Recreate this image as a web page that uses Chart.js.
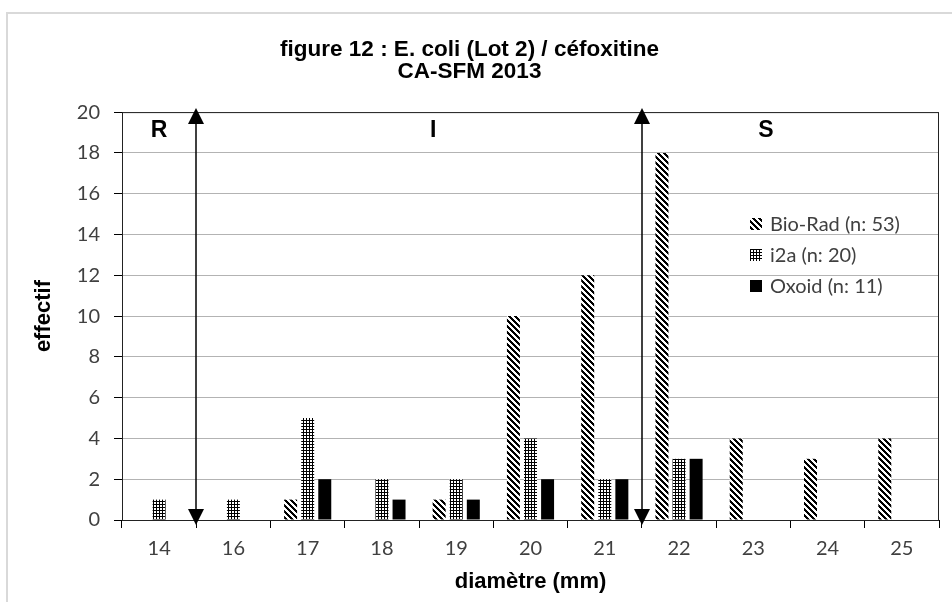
<!DOCTYPE html>
<html>
<head>
<meta charset="utf-8">
<title>figure 12</title>
<script src="https://cdn.jsdelivr.net/npm/chart.js@4.4.1/dist/chart.umd.min.js"></script>
<style>
  body { margin: 0; background: #fff; }
  canvas { display: block; }
</style>
</head>
<body>
<canvas id="myChart" width="952" height="602"></canvas>
<script>
// diamètres (mm) et effectifs par fournisseur
var diametres = ["14", "16", "17", "18", "19", "20", "21", "22", "23", "24", "25"];
var bioRad = [0, 0, 1, 0, 1, 10, 12, 18, 4, 3, 4];
var i2a = [1, 1, 5, 2, 2, 4, 2, 3, 0, 0, 0];
var oxoid = [0, 0, 2, 1, 1, 2, 2, 3, 0, 0, 0];
var serieLabels = ["Bio-Rad (n: 53)", "i2a (n: 20)", "Oxoid (n: 11)"];
var titre = ["figure 12 : E. coli (Lot 2) / céfoxitine", "CA-SFM 2013"];
var yTicks = [0, 2, 4, 6, 8, 10, 12, 14, 16, 18, 20];

// zones R / I / S : flèches entre deux catégories, lettres en position de catégorie
var limites = [0.5, 6.5];
var zones = [{ txt: "R", at: 0 }, { txt: "I", at: 3.69 }, { txt: "S", at: 8.17 }];

var tickFont = { family: "Lato", size: 20 };
var boldFont = "Liberation Sans";

function makePattern(size, isInk) {
    var c = document.createElement("canvas");
    c.width = size;
    c.height = size;
    var g = c.getContext("2d");
    var img = g.createImageData(size, size);
    for (var y = 0; y < size; y++) {
        for (var x = 0; x < size; x++) {
            var k = (y * size + x) * 4;
            var v = isInk(x, y) ? 0 : 255;
            img.data[k] = v;
            img.data[k + 1] = v;
            img.data[k + 2] = v;
            img.data[k + 3] = 255;
        }
    }
    g.putImageData(img, 0, 0);
    return g.createPattern(c, "repeat");
}

var hachures = makePattern(6, function (x, y) { return ((x - y + 6) % 6) < 3; });
var trame = makePattern(3, function (x, y) { return x === 0 || y === 0; });

var decor = {
    id: "decor",
    beforeDraw: function (chart) {
        var c = chart.ctx;
        c.save();
        c.strokeStyle = "#d9d9d9";
        c.lineWidth = 2;
        c.beginPath();
        c.moveTo(7, 602);
        c.lineTo(7, 13);
        c.lineTo(952, 13);
        c.stroke();
        c.restore();
    },
    afterDatasetsDraw: function (chart) {
        var c = chart.ctx;
        var a = chart.chartArea;
        var xs = chart.scales.x;
        var ys = chart.scales.y;
        c.save();

        // cadre de la zone de tracé
        c.strokeStyle = "#222";
        c.lineWidth = 1;
        c.strokeRect(a.left + 0.5, a.top + 0.5, a.right - a.left - 1, a.bottom - a.top);

        // flèches doubles
        c.fillStyle = "#000";
        c.strokeStyle = "#000";
        c.lineWidth = 1.5;
        limites.forEach(function (v) {
            var x = Math.round((xs.getPixelForValue(Math.floor(v)) + xs.getPixelForValue(Math.ceil(v))) / 2);
            var top = a.top - 4;
            var bot = a.bottom + 5;
            c.beginPath();
            c.moveTo(x, top + 10);
            c.lineTo(x, bot - 10);
            c.stroke();
            c.beginPath();
            c.moveTo(x, top);
            c.lineTo(x - 8, top + 16);
            c.lineTo(x + 8, top + 16);
            c.closePath();
            c.fill();
            c.beginPath();
            c.moveTo(x, bot);
            c.lineTo(x - 8, bot - 16);
            c.lineTo(x + 8, bot - 16);
            c.closePath();
            c.fill();
        });

        // lettres R, I, S
        c.font = "bold 23px '" + boldFont + "'";
        c.textAlign = "center";
        c.textBaseline = "middle";
        zones.forEach(function (z) {
            c.fillText(z.txt, xs.getPixelForValue(0) + z.at * (xs.getPixelForValue(1) - xs.getPixelForValue(0)), ys.getPixelForValue(19.1));
        });

        // légende
        c.font = tickFont.size + "px " + tickFont.family;
        c.textAlign = "left";
        chart.data.datasets.forEach(function (ds, i) {
            var y = 224 + i * 31;
            c.fillStyle = ds.backgroundColor;
            c.fillRect(750, y - 6, 12, 12);
            c.fillStyle = "#404040";
            c.fillText(ds.label, 770, y + 1);
        });
        c.restore();
    }
};

var ctx = document.getElementById("myChart");
var chart = new Chart(ctx, {
    type: "bar",
    data: {
        labels: diametres,
        datasets: [
            { label: serieLabels[0], data: bioRad, backgroundColor: hachures },
            { label: serieLabels[1], data: i2a, backgroundColor: trame },
            { label: serieLabels[2], data: oxoid, backgroundColor: "#000" }
        ]
    },
    options: {
        responsive: false,
        animation: false,
        devicePixelRatio: 1,
        categoryPercentage: 0.69,
        barPercentage: 0.76,
        layout: { padding: { left: 0, right: 13, top: 0, bottom: 0 } },
        plugins: {
            legend: { display: false },
            tooltip: { enabled: false },
            title: {
                display: true,
                text: titre,
                color: "#000",
                font: { family: boldFont, size: 22.5, weight: "bold", lineHeight: 0.98 },
                padding: { top: 39, bottom: 29 }
            }
        },
        scales: {
            x: {
                afterFit: function (s) { s.height = 82; },
                grid: { offset: true, drawOnChartArea: false, tickLength: 8, tickColor: "#000", color: "#000" },
                border: { color: "#000" },
                ticks: { color: "#404040", font: tickFont, padding: 9, maxRotation: 0 },
                title: {
                    display: true,
                    text: "diamètre (mm)",
                    color: "#000",
                    font: { family: boldFont, size: 22, weight: "bold" },
                    padding: { top: 2, bottom: 7 }
                }
            },
            y: {
                min: 0,
                max: 20,
                afterFit: function (s) { s.width = 122; },
                afterBuildTicks: function (s) { s.ticks = yTicks.map(function (v) { return { value: v }; }); },
                grid: { color: "#b3b3b3", tickColor: "#000", tickLength: 8 },
                border: { color: "#000" },
                ticks: { color: "#404040", font: tickFont, padding: 14 },
                title: {
                    display: true,
                    text: "effectif",
                    color: "#000",
                    font: { family: boldFont, size: 22, weight: "bold" },
                    padding: { top: 31, bottom: 0 }
                }
            }
        }
    },
    plugins: [decor]
});
</script>
</body>
</html>
